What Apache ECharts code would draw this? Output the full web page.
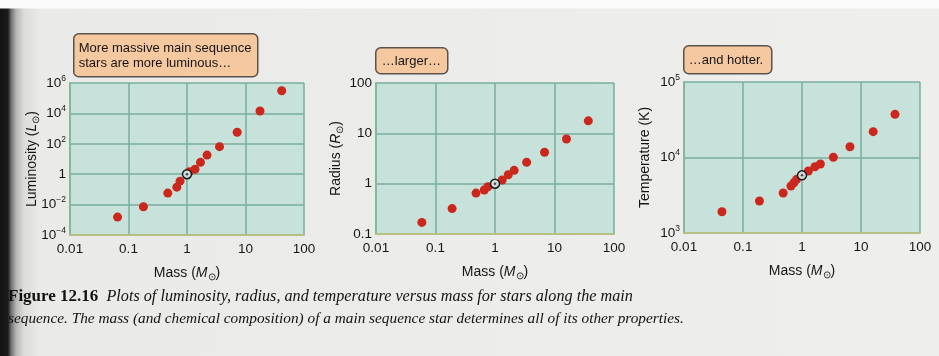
<!DOCTYPE html>
<html>
<head>
<meta charset="utf-8">
<script src="https://cdn.jsdelivr.net/npm/echarts@6/dist/echarts.min.js"></script>
<style>
  html, body { margin: 0; padding: 0; }
  body {
    width: 939px; height: 356px; overflow: hidden;
    background:
      linear-gradient(to bottom, #fbfbfb 0, #fbfbfb 8px, rgba(0,0,0,0) 9px),
      linear-gradient(to right, #121212 0, #1c1c1c 8px, #6e6e6e 11px, #b4b4b2 16px, #dcdcda 24px, #eaeae8 40px, #eeeeec 100%);
  }
  #chart { width: 939px; height: 356px; }
</style>
</head>
<body>
<div id="chart"></div>
<script>
// Main-sequence stars: luminosity, radius and temperature against mass (solar units)
const lumMass = [0.065, 0.18, 0.47, 0.67, 0.76, 1.1, 1.37, 1.7, 2.2, 3.6, 7.2, 17.7, 41.6];
const lumValue = [0.0015, 0.0072, 0.057, 0.14, 0.35, 1.45, 2.1, 6.0, 18, 65, 575, 14500, 310000];

const radMass = [0.059, 0.19, 0.48, 0.66, 0.76, 1.32, 1.67, 2.1, 3.4, 6.8, 15.9, 37];
const radValue = [0.17, 0.32, 0.65, 0.75, 0.87, 1.18, 1.5, 1.84, 2.65, 4.2, 7.7, 17.7];

const tempMass = [0.044, 0.19, 0.48, 0.65, 0.73, 0.81, 1.28, 1.66, 2.05, 3.4, 6.5, 16.1, 37.7];
const tempValue = [1915, 2650, 3390, 4200, 4630, 5140, 6620, 7550, 8200, 10070, 13900, 22000, 37300];

// The Sun, drawn with its own symbol in each panel
const sunMass = [1];
const sunLum = [1];
const sunRad = [1];
const sunTemp = [5800];

// Tick labels, indexed by decade exponent
const massTicks = { '-2': '0.01', '-1': '0.1', '0': '1', '1': '10', '2': '100' };
const lumTicks = { '-4': '10{s|−4}', '-2': '10{s|−2}', '0': '1', '2': '10{s|2}', '4': '10{s|4}', '6': '10{s|6}' };
const radTicks = { '-1': '0.1', '0': '1', '1': '10', '2': '100' };
const tempTicks = { '3': '10{s|3}', '4': '10{s|4}', '5': '10{s|5}' };

const notes = ['More massive main sequence\nstars are more luminous…', '…larger…', '…and hotter.'];
const captionHead = 'Figure 12.16';
const captionLine1 = 'Plots of luminosity, radius, and temperature versus mass for stars along the main';
const captionLine2 = 'sequence. The mass (and chemical composition) of a main sequence star determines all of its other properties.';

const FONT = 'Liberation Sans, Arial, sans-serif';
const INK = '#161616';
const gridColor = '#78ae9e';
const dotColor = '#cc271c';

function tickFormatter(map) {
  return function (v) {
    const e = Math.round(Math.log10(v));
    return map[String(e)] !== undefined ? map[String(e)] : '';
  };
}
const tickRich = {
  s: { fontSize: 8.5, fontFamily: FONT, color: INK, verticalAlign: 'bottom', padding: [0, 0, 9, 0] }
};
const nameRich = {
  t: { fontSize: 14, fontFamily: FONT, color: INK },
  i: { fontSize: 14, fontFamily: FONT, fontStyle: 'italic', color: INK },
  sub: { fontSize: 9.5, fontFamily: FONT, color: INK, verticalAlign: 'top', padding: [8, 0, 0, 0] }
};

const grids = [
  { left: 70, top: 83, width: 234, height: 152 },
  { left: 376, top: 83, width: 238, height: 151 },
  { left: 684, top: 82, width: 236, height: 151 }
];

function xAxis(i) {
  return {
    type: 'log', logBase: 10, gridIndex: i, min: 0.01, max: 100,
    name: '{t|Mass (}{i|M}{sub|⊙}{t|)}', nameLocation: 'middle', nameGap: 29, nameMoveOverlap: false,
    nameTextStyle: { rich: nameRich },
    axisLine: { show: true, lineStyle: { color: '#b8bf84', width: 2 } },
    axisTick: { show: false },
    axisLabel: { formatter: tickFormatter(massTicks), fontSize: 13.5, fontFamily: FONT, color: INK, margin: 7 },
    splitLine: { show: true, lineStyle: { color: gridColor, width: 1.5 } },
    minorTick: { show: false }, minorSplitLine: { show: false }
  };
}

function yAxis(i, min, max, interval, ticks, title, unitSym, gap) {
  const name = unitSym
    ? '{t|' + title + ' (}{i|' + unitSym + '}{sub|⊙}{t|)}'
    : '{t|' + title + '}';
  return {
    type: 'log', logBase: 10, gridIndex: i, min: min, max: max, interval: interval,
    name: name, nameLocation: 'middle', nameGap: gap, nameRotate: 90, nameMoveOverlap: false,
    nameTextStyle: { rich: nameRich },
    axisLine: { show: true, lineStyle: { color: '#86b896', width: 2 } },
    axisTick: { show: false },
    axisLabel: { formatter: tickFormatter(ticks), fontSize: 13.5, fontFamily: FONT, color: INK, margin: 4, rich: tickRich },
    splitLine: { show: true, lineStyle: { color: gridColor, width: 1.5 } },
    minorTick: { show: false }, minorSplitLine: { show: false }
  };
}

function zip(a, b) { return a.map(function (v, k) { return [v, b[k]]; }); }

function dots(i, xs, ys) {
  return {
    type: 'scatter', xAxisIndex: i, yAxisIndex: i, data: zip(xs, ys),
    symbol: 'circle', symbolSize: 9, itemStyle: { color: dotColor, opacity: 1 }, z: 3, silent: true
  };
}
function sun(i, xs, ys) {
  return [
    { type: 'scatter', xAxisIndex: i, yAxisIndex: i, data: zip(xs, ys), symbol: 'circle', symbolSize: 9,
      itemStyle: { color: '#d2dada', borderColor: '#1c1c1c', borderWidth: 1.5, opacity: 1 }, z: 4, silent: true },
    { type: 'scatter', xAxisIndex: i, yAxisIndex: i, data: zip(xs, ys), symbol: 'circle', symbolSize: 2.5,
      itemStyle: { color: '#4a4a4a', opacity: 1 }, z: 5, silent: true }
  ];
}

function noteBox(x, y, w, h, text, tx, ty) {
  return {
    type: 'group', left: x, top: y,
    children: [
      { type: 'rect', shape: { x: 0, y: 0, width: w, height: h, r: 5 },
        style: { fill: '#f6c8a0', stroke: '#5b524b', lineWidth: 1.5 } },
      { type: 'text', x: tx, y: ty,
        style: { text: text, font: '13px ' + FONT, fill: INK, lineHeight: 15 } }
    ]
  };
}

const chart = echarts.init(document.getElementById('chart'), null, { renderer: 'canvas' });
chart.setOption({
  backgroundColor: 'transparent',
  animation: false,
  grid: grids.map(function (g) {
    return Object.assign({ show: true, backgroundColor: '#c7e2da', borderWidth: 0 }, g);
  }),
  xAxis: [xAxis(0), xAxis(1), xAxis(2)],
  yAxis: [
    yAxis(0, 1e-4, 1e6, 2, lumTicks, 'Luminosity', 'L', 29),
    yAxis(1, 0.1, 100, 1, radTicks, 'Radius', 'R', 31),
    yAxis(2, 1e3, 1e5, 1, tempTicks, 'Temperature (K)', null, 32)
  ],
  series: [
    dots(0, lumMass, lumValue), ...sun(0, sunMass, sunLum),
    dots(1, radMass, radValue), ...sun(1, sunMass, sunRad),
    dots(2, tempMass, tempValue), ...sun(2, sunMass, sunTemp)
  ],
  graphic: [
    noteBox(73, 33, 184, 43, notes[0], 5, 7),
    noteBox(375, 47, 72, 26, notes[1], 6, 6),
    noteBox(683, 45, 88, 28, notes[2], 5, 7),
    {
      type: 'text', left: 8, top: 288,
      style: {
        text: '{b|' + captionHead + '}{i|  ' + captionLine1 + '}',
        rich: {
          b: { font: 'bold 17px Liberation Serif, Times New Roman, serif', fill: '#121212' },
          i: { font: 'italic 16.2px Liberation Serif, Times New Roman, serif', fill: '#121212' }
        }
      }
    },
    {
      type: 'text', left: 8, top: 311,
      style: { text: captionLine2, font: 'italic 15.3px Liberation Serif, Times New Roman, serif', fill: '#121212' }
    }
  ]
});
</script>
</body>
</html>
